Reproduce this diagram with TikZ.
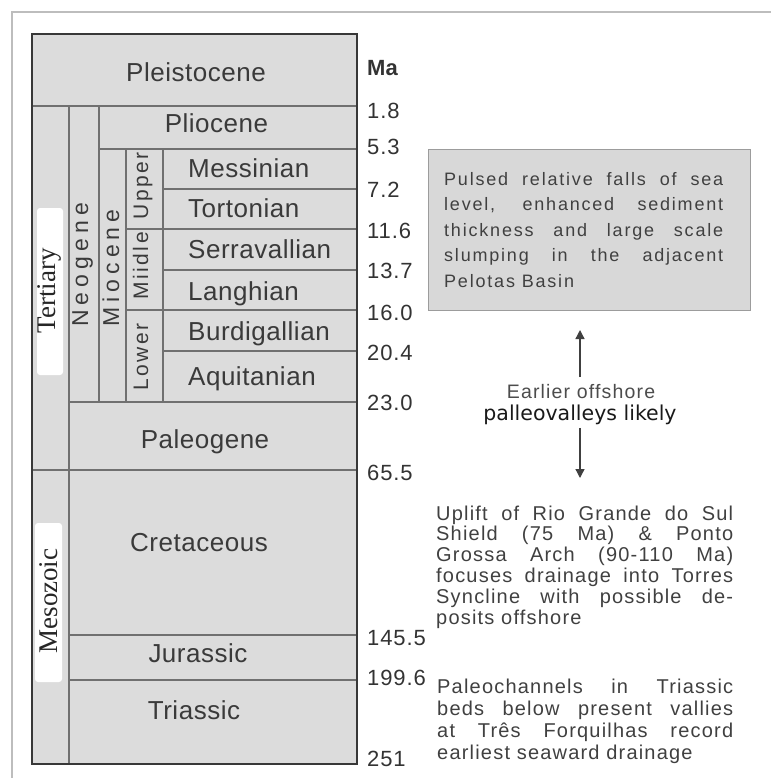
\documentclass[tikz,border=0pt]{standalone}
\usepackage{fontspec}
\setmainfont{Liberation Sans}
\newfontfamily\chartfont{Liberation Sans}[LetterSpace=2]
\newfontfamily\agefont{Liberation Sans}[LetterSpace=4]
\newfontfamily\spreadfont{Liberation Sans}[LetterSpace=22]
\newfontfamily\subfont{Liberation Sans}[LetterSpace=12]
\newfontfamily\boxfont{Liberation Sans}[LetterSpace=10]
\newfontfamily\notefont{Liberation Sans}[LetterSpace=6]
\newfontfamily\erafont{Liberation Serif}
\newfontfamily\dvfont{DejaVu Sans}
\usetikzlibrary{arrows.meta}
\definecolor{chartgray}{HTML}{DCDCDC}
\definecolor{rulegray}{HTML}{707070}
\definecolor{bordergray}{HTML}{383838}
\definecolor{framegray}{HTML}{BDBDBD}
\definecolor{labelgray}{HTML}{3A3A3A}
\definecolor{boxgray}{HTML}{D8D8D8}
\definecolor{boxedge}{HTML}{9C9C9C}
\tikzset{
  rule/.style={draw=rulegray, line width=1.2pt},
  border/.style={draw=bordergray, line width=1.5pt},
  unit/.style={text=labelgray, inner sep=0pt, anchor=base, font={\chartfont\fontsize{26}{30}\selectfont}},
  stage/.style={unit, anchor=base west},
  era/.style={text=black!85, inner sep=0pt, anchor=base, rotate=90, font={\erafont\fontsize{27}{30}\selectfont}},
  spread/.style={text=labelgray, inner sep=0pt, anchor=base, rotate=90, font={\spreadfont\fontsize{23}{26}\selectfont}},
  subep/.style={text=labelgray, inner sep=0pt, anchor=base, rotate=90, font={\subfont\fontsize{21}{24}\selectfont}},
  age/.style={text=black!80, inner sep=0pt, anchor=base west, font={\agefont\fontsize{22}{26}\selectfont}},
  note/.style={text=black!75, inner sep=0pt, anchor=north west, align=justify,
    font={\notefont\fontsize{20}{20.8}\selectfont\tolerance=10000\hbadness=10000}},
  arr/.style={draw=black!75, line width=1.3pt, -{Triangle[width=9pt,length=9pt]}}
}
\begin{document}
\begin{tikzpicture}[x=1pt,y=-1pt]
  \useasboundingbox (0,0) rectangle (771,778);
  % page frame
  \draw[framegray, line width=2pt] (12,778) -- (12,12) -- (771,12);
  % the time scale column
  \fill[chartgray] (32,34) rectangle (357,764);
  \draw[rule] (32,106) -- (357,106);
  \draw[rule] (99,149) -- (357,149);
  \draw[rule] (163,189) -- (357,189);
  \draw[rule] (126,229) -- (357,229);
  \draw[rule] (163,270) -- (357,270);
  \draw[rule] (126,310) -- (357,310);
  \draw[rule] (163,351) -- (357,351);
  \draw[rule] (69,402) -- (357,402);
  \draw[rule] (32,470) -- (357,470);
  \draw[rule] (69,635) -- (357,635);
  \draw[rule] (69,680) -- (357,680);
  \draw[rule] (69,106) -- (69,764);
  \draw[rule] (99,106) -- (99,402);
  \draw[rule] (126,149) -- (126,402);
  \draw[rule] (163,149) -- (163,402);
  \draw[border] (32,34) rectangle (357,764);
  % white patches behind the era names
  \fill[white, rounded corners=3pt] (37,208) rectangle (63,375);
  \fill[white, rounded corners=3pt] (35,523) rectangle (62,682);
  % eras
  \node[era] (tertiary) at (55,291) {Tertiary};
  \node[era] (mesozoic) at (57.5,601) {Mesozoic};
  % periods and epochs
  \node[spread] (neogene) at (88,265) {Neogene};
  \node[spread] (miocene) at (119,268) {Miocene};
  \node[subep] (upper) at (148,186) {Upper};
  \node[subep] (middle) at (148,266) {Miidle};
  \node[subep] (lower) at (148,357) {Lower};
  \node[unit] (pleistocene) at (196,82) {Pleistocene};
  \node[unit] (pliocene) at (216.5,133) {Pliocene};
  \node[stage] (messinian) at (188,178) {Messinian};
  \node[stage] (tortonian) at (188,217) {Tortonian};
  \node[stage] (serravallian) at (188,258) {Serravallian};
  \node[stage] (langhian) at (188,300) {Langhian};
  \node[stage] (burdigallian) at (188,340) {Burdigallian};
  \node[stage] (aquitanian) at (188,385) {Aquitanian};
  \node[unit] (paleogene) at (205,448) {Paleogene};
  \node[unit] (cretaceous) at (199,551) {Cretaceous};
  \node[unit] (jurassic) at (198,662) {Jurassic};
  \node[unit] (triassic) at (194,719) {Triassic};
  % ages in Ma
  \node[age, font={\bfseries\fontsize{22}{26}\selectfont}] (ma) at (367,76) {Ma};
  \node[age] (a1) at (367,119) {1.8};
  \node[age] (a2) at (367,155) {5.3};
  \node[age] (a3) at (367,197) {7.2};
  \node[age] (a4) at (367,238) {11.6};
  \node[age] (a5) at (367,278) {13.7};
  \node[age] (a6) at (367,320) {16.0};
  \node[age] (a7) at (367,360) {20.4};
  \node[age] (a8) at (367,410) {23.0};
  \node[age] (a9) at (367,480) {65.5};
  \node[age] (a10) at (367,645) {145.5};
  \node[age] (a11) at (367,685) {199.6};
  \node[age] (a12) at (367,766) {251};
  % Miocene box
  \node[draw=boxedge, fill=boxgray, line width=1.2pt, anchor=north west, inner sep=0pt,
    minimum width=322pt, minimum height=161pt] (pulsed) at (428,149) {};
  \node[note, text width=279pt, font={\boxfont\fontsize{18}{25.5}\selectfont\tolerance=10000\hbadness=10000}]
    (pulsedtxt) at (444,172) {Pulsed relative falls of sea\linebreak level, enhanced sediment\linebreak
    thickness and large scale\linebreak slumping in the adjacent\linebreak Pelotas Basin};
  % offshore note and arrows
  \node[inner sep=0pt, anchor=base, text=black!70, font={\notefont\fontsize{19.5}{22}\selectfont}]
    (early) at (581,398.5) {Earlier offshore};
  \node[inner sep=0pt, anchor=base, text=black!90, font={\dvfont\fontsize{20.5}{22}\selectfont}]
    (likely) at (580,420.5) {palleovalleys likely};
  \coordinate (uptip) at (580,330);
  \coordinate (downtip) at (580,478);
  \draw[arr, shorten <=7pt] (early.north -| uptip) -- (uptip);
  \draw[arr, shorten <=3pt] (likely.south -| downtip) -- (downtip);
  % Cretaceous and Triassic notes
  \node[note, text width=297pt] (uplift) at (436,505.5) {Uplift of Rio Grande do Sul\linebreak
    Shield (75 Ma) \& Ponto\linebreak Grossa Arch (90-110 Ma)\linebreak
    focuses drainage into Torres\linebreak Syncline with possible de-\linebreak posits offshore};
  \node[note, text width=296pt, font={\notefont\fontsize{20}{22}\selectfont\tolerance=10000\hbadness=10000}]
    (paleoch) at (437,678.5) {Paleochannels in Triassic\linebreak beds below present vallies\linebreak
    at Três Forquilhas record\linebreak earliest seaward drainage};
\end{tikzpicture}
\end{document}
